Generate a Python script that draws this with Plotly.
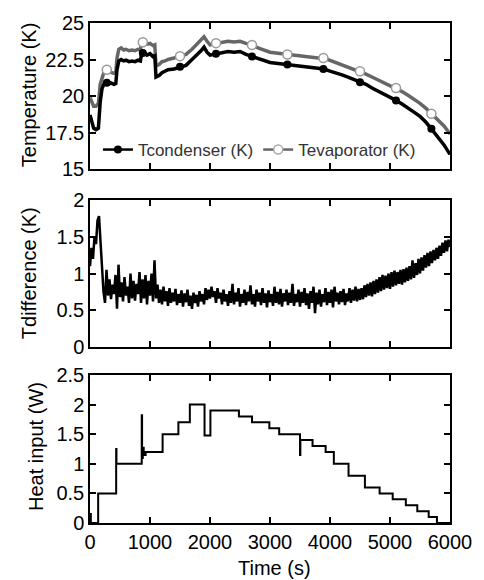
import numpy as np
import plotly.graph_objects as go

# ---------------- data ----------------
t_temp = [0, 30, 60, 100, 140, 170, 200, 230, 260, 300, 350, 400, 430, 450, 480, 520, 560, 600,
          650, 700, 750, 800, 840, 860, 900, 950, 1000, 1050, 1080, 1100, 1150, 1200, 1250, 1300,
          1400, 1500, 1600, 1700, 1800, 1850, 1900, 1950, 2000, 2100, 2200, 2300, 2400, 2500, 2600,
          2700, 2800, 2900, 3000, 3100, 3200, 3300, 3400, 3500, 3600, 3700, 3800, 3900, 4000, 4100,
          4200, 4300, 4400, 4500, 4600, 4700, 4800, 4900, 5000, 5100, 5200, 5300, 5400, 5500, 5600,
          5700, 5800, 5900, 6000]
t_condenser = [18.7, 18.2, 17.8, 17.7, 17.8, 19.6, 20.5, 20.8, 20.9, 20.8, 20.9, 20.8, 20.85, 21.8,
               22.4, 22.5, 22.4, 22.45, 22.35, 22.4, 22.35, 22.45, 22.4, 22.9, 23.0, 22.8, 22.9, 22.7,
               22.75, 21.3, 21.4, 21.6, 21.7, 21.8, 21.85, 22.0, 22.1, 22.5, 22.85, 23.1, 23.35, 23.0,
               22.8, 22.9, 23.0, 23.05, 23.0, 23.05, 22.85, 22.7, 22.55, 22.4, 22.3, 22.25, 22.2,
               22.15, 22.05, 22.0, 21.95, 21.9, 21.85, 21.85, 21.7, 21.6, 21.45, 21.3, 21.15, 20.95,
               20.8, 20.55, 20.35, 20.15, 19.95, 19.7, 19.45, 19.2, 18.9, 18.6, 18.2, 17.7, 17.2,
               16.65, 16.0]
t_evaporator = [19.9, 19.5, 19.3, 19.3, 19.5, 20.8, 21.3, 21.6, 21.75, 21.7, 21.6, 21.55, 21.6, 22.6,
                23.2, 23.3, 23.15, 23.2, 23.1, 23.15, 23.1, 23.2, 23.15, 23.65, 23.7, 23.55, 23.6,
                23.45, 23.5, 22.05, 22.15, 22.35, 22.4, 22.5, 22.6, 22.73, 22.85, 23.2, 23.6, 23.8,
                24.05, 23.75, 23.5, 23.6, 23.7, 23.75, 23.7, 23.75, 23.6, 23.5, 23.3, 23.15, 23.0,
                22.95, 22.9, 22.84, 22.75, 22.7, 22.65, 22.6, 22.6, 22.6, 22.45, 22.3, 22.15, 22.0,
                21.85, 21.7, 21.5, 21.3, 21.1, 20.95, 20.75, 20.55, 20.3, 20.05, 19.8, 19.5, 19.15,
                18.75, 18.4, 17.95, 17.4]

mark_t = [280, 880, 1500, 2100, 2700, 3290, 3890, 4500, 5100, 5690]
mark_condenser = [20.9, 22.95, 22.0, 22.9, 22.7, 22.15, 21.85, 20.95, 19.7, 17.75]
mark_evaporator = [21.8, 23.68, 22.73, 23.62, 23.5, 22.84, 22.6, 21.7, 20.55, 18.78]

t_difference = [
    1.10, 1.35, 1.20, 1.50, 1.40, 1.72, 1.78, 1.45, 1.05, 0.75,
    0.60, 1.05, 0.70, 0.92, 0.65, 0.85, 0.72, 0.98, 0.52, 1.12, 0.68, 0.88, 0.62, 0.95, 0.70,
    0.82, 0.60, 1.00, 0.66, 0.90, 0.63, 0.86, 0.72, 1.02, 0.60, 0.92, 0.66, 0.98, 0.58, 0.90,
    0.70, 1.00, 0.62, 1.18, 0.66,
    0.85, 0.60, 0.78, 0.58, 0.82, 0.62, 0.76, 0.56, 0.80, 0.60, 0.74, 0.62, 0.79, 0.57, 0.72,
    0.60, 0.77, 0.55, 0.73, 0.61, 0.78, 0.56, 0.70, 0.52, 0.74, 0.60, 0.71, 0.55, 0.76, 0.62,
    0.72, 0.58, 0.80, 0.64, 0.78, 0.66, 0.82, 0.68, 0.76, 0.60, 0.80, 0.66, 0.74, 0.58, 0.78,
    0.62, 0.72, 0.56, 0.76, 0.60, 0.86, 0.58, 0.74, 0.62, 0.80, 0.55, 0.72, 0.60, 0.78, 0.57,
    0.75, 0.62, 0.84, 0.58, 0.72, 0.55, 0.78, 0.62, 0.74, 0.57, 0.80, 0.60, 0.73, 0.54, 0.77,
    0.61, 0.72, 0.56, 0.82, 0.60, 0.75, 0.58, 0.79, 0.55, 0.73, 0.62, 0.78, 0.57, 0.74, 0.60,
    0.86, 0.56, 0.72, 0.61, 0.78, 0.55, 0.75, 0.60, 0.80, 0.57, 0.73, 0.52, 0.76, 0.60, 0.82,
    0.46, 0.74, 0.58, 0.78, 0.55, 0.72, 0.61, 0.80, 0.57, 0.75, 0.60, 0.78, 0.54, 0.82, 0.62,
    0.74, 0.58, 0.76, 0.61, 0.79, 0.57, 0.73, 0.62, 0.80, 0.60, 0.78, 0.63, 0.82, 0.62, 0.79,
    0.64,
    0.80, 0.65, 0.84, 0.68, 0.86, 0.70, 0.88, 0.69, 0.90, 0.72, 0.92, 0.74, 0.95, 0.76, 0.98,
    0.78, 0.97, 0.80, 1.00, 0.79, 1.02, 0.82, 1.04, 0.84, 1.02, 0.86, 1.05, 0.85, 1.06, 0.88,
    1.08, 0.90, 1.10, 0.92, 1.18, 0.94, 1.14, 0.98, 1.20, 1.00, 1.22, 1.04, 1.25, 1.08, 1.28,
    1.10, 1.30, 1.14, 1.32, 1.18, 1.35, 1.20, 1.38, 1.24, 1.42, 1.28, 1.45, 1.30, 1.46, 1.36]
t_diff_time = np.linspace(0, 6000, len(t_difference))

t_heat = [0, 8, 14, 136, 436, 441, 862, 868, 880, 895, 927, 1210, 1473, 1664, 1909, 2007, 2482,
          2700, 2989, 3153, 3500, 3506, 3709, 3927, 4064, 4309, 4582, 4827, 5045, 5264, 5455,
          5645, 5782, 6000]
heat_input = [0, 0.15, 0, 0.5, 1.25, 1.0, 1.82, 1.1, 1.27, 1.15, 1.2, 1.5, 1.7, 2.0, 1.48, 1.9,
              1.8, 1.7, 1.6, 1.5, 1.15, 1.4, 1.3, 1.2, 1.0, 0.8, 0.6, 0.5, 0.4, 0.3, 0.2, 0.1,
              0, 0]

x_ticks = [0, 1000, 2000, 3000, 4000, 5000, 6000]

# ---------------- figure ----------------
FONT = "Liberation Sans, Arial, sans-serif"
GREY = "#666666"

fig = go.Figure()

fig.add_trace(go.Scatter(x=t_temp, y=t_evaporator, mode="lines",
                         line=dict(color=GREY, width=3.5), showlegend=False,
                         xaxis="x", yaxis="y"))
fig.add_trace(go.Scatter(x=t_temp, y=t_condenser, mode="lines",
                         line=dict(color="black", width=3.5), showlegend=False,
                         xaxis="x", yaxis="y"))
fig.add_trace(go.Scatter(x=mark_t, y=mark_evaporator, mode="markers",
                         marker=dict(symbol="circle", size=9, color="white",
                                     line=dict(color="#999999", width=1.5)),
                         showlegend=False, xaxis="x", yaxis="y"))
fig.add_trace(go.Scatter(x=mark_t, y=mark_condenser, mode="markers",
                         marker=dict(symbol="circle", size=8, color="black"),
                         showlegend=False, xaxis="x", yaxis="y"))
# legend entries
fig.add_trace(go.Scatter(x=[None], y=[None], mode="lines+markers", name="Tcondenser (K)",
                         line=dict(color="black", width=2.5),
                         marker=dict(symbol="circle", size=8, color="black"),
                         xaxis="x", yaxis="y"))
fig.add_trace(go.Scatter(x=[None], y=[None], mode="lines+markers", name="Tevaporator (K)",
                         line=dict(color=GREY, width=2.5),
                         marker=dict(symbol="circle", size=9, color="white",
                                     line=dict(color="#aaaaaa", width=1.5)),
                         xaxis="x", yaxis="y"))

fig.add_trace(go.Scatter(x=t_diff_time, y=t_difference, mode="lines",
                         line=dict(color="black", width=2.5), showlegend=False,
                         xaxis="x2", yaxis="y2"))

fig.add_trace(go.Scatter(x=t_heat, y=heat_input, mode="lines", line_shape="hv",
                         line=dict(color="black", width=2), showlegend=False,
                         xaxis="x3", yaxis="y3"))

common = dict(showline=True, linecolor="black", linewidth=1.5, mirror="ticks",
              ticks="inside", ticklen=6, tickwidth=1.5, tickcolor="black",
              showgrid=False, zeroline=False,
              tickfont=dict(size=20, color="black", family=FONT))

fig.update_layout(
    width=484, height=580,
    margin=dict(l=90, r=27, t=23, b=57),
    paper_bgcolor="white", plot_bgcolor="white",
    font=dict(family=FONT, color="black"),
    xaxis=dict(domain=[0, 1], anchor="y", range=[0, 6000], tickvals=x_ticks,
               showticklabels=False, **common),
    xaxis2=dict(domain=[0, 1], anchor="y2", range=[0, 6000], tickvals=x_ticks,
                showticklabels=False, **common),
    xaxis3=dict(domain=[0, 1], anchor="y3", range=[0, 6000], tickvals=x_ticks,
                **common),
    yaxis=dict(domain=[0.708, 1], anchor="x", range=[15, 25], dtick=2.5, tick0=0, **common),
    yaxis2=dict(domain=[0.352, 0.646], anchor="x2", range=[0, 2], dtick=0.5, tick0=0, **common),
    yaxis3=dict(domain=[0, 0.296], anchor="x3", range=[0, 2.5], dtick=0.5, tick0=0, **common),
    legend=dict(orientation="h", x=0.022, y=0.746, xanchor="left", yanchor="middle",
                bgcolor="rgba(0,0,0,0)", font=dict(size=17, color="#333333", family=FONT),
                itemwidth=30, tracegroupgap=0),
    showlegend=True,
)

titles = [
    ("Temperature (K)", -0.169, 0.856),
    ("Tdifference (K)", -0.169, 0.5),
    ("Heat input (W)", -0.150, 0.152),
]
for text, x, y in titles:
    fig.add_annotation(text=text, xref="paper", yref="paper", x=x, y=y, textangle=-90,
                       xanchor="center", yanchor="middle", showarrow=False,
                       font=dict(size=20, color="black", family=FONT))
fig.add_annotation(text="Time (s)", xref="paper", yref="paper", x=0.512, y=-0.09,
                   xanchor="center", yanchor="middle", showarrow=False,
                   font=dict(size=20, color="black", family=FONT))

fig.write_html("out.html")
